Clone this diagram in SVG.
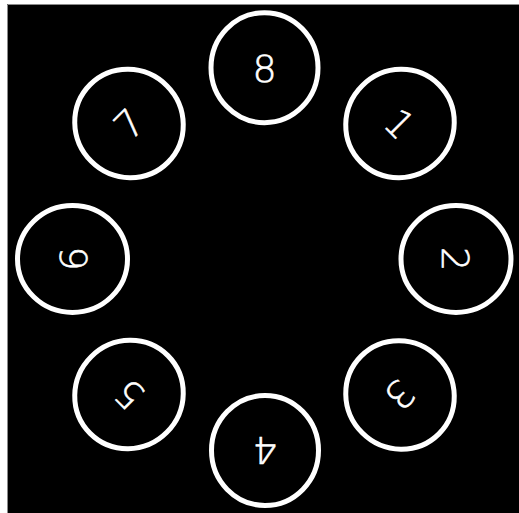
<svg xmlns="http://www.w3.org/2000/svg" width="519" height="513" viewBox="0 0 519 513">
<style>
.ring{fill:none;stroke:#fff;stroke-width:5}
.lbl{fill:#fff;stroke:#fff;stroke-width:0.6;font-family:"DejaVu Sans","Liberation Sans",sans-serif;font-weight:200;font-size:38px;text-anchor:middle}
</style>
<rect x="0" y="0" width="519" height="513" fill="#fff"/>
<rect x="7" y="4" width="512" height="509" fill="#000"/>
<path d="M7.5 513 V4.5 H519" fill="none" stroke="#8a8a8a" stroke-width="1"/>
<g id="connectors"/>
<g id="node-8" transform="translate(264.5,67.7) rotate(0)"><ellipse class="ring" rx="53.5" ry="55"/><text class="lbl" y="14">8</text></g>
<g id="node-1" transform="translate(400,123.5) rotate(45)"><ellipse class="ring" rx="53.5" ry="55"/><text class="lbl" y="14">1</text></g>
<g id="node-2" transform="translate(456,259) rotate(90)"><ellipse class="ring" rx="53.5" ry="55"/><text class="lbl" y="14">2</text></g>
<g id="node-3" transform="translate(400,395) rotate(135)"><ellipse class="ring" rx="53.5" ry="55"/><text class="lbl" y="14">3</text></g>
<g id="node-4" transform="translate(265,450.5) rotate(180)"><ellipse class="ring" rx="53.5" ry="55"/><text class="lbl" y="14">4</text></g>
<g id="node-5" transform="translate(129,394.5) rotate(225)"><ellipse class="ring" rx="53.5" ry="55"/><text class="lbl" y="14">5</text></g>
<g id="node-6" transform="translate(72.5,259) rotate(270)"><ellipse class="ring" rx="53.5" ry="55"/><text class="lbl" y="14">6</text></g>
<g id="node-7" transform="translate(129,123.5) rotate(315)"><ellipse class="ring" rx="53.5" ry="55"/><text class="lbl" y="14">7</text></g>
</svg>
